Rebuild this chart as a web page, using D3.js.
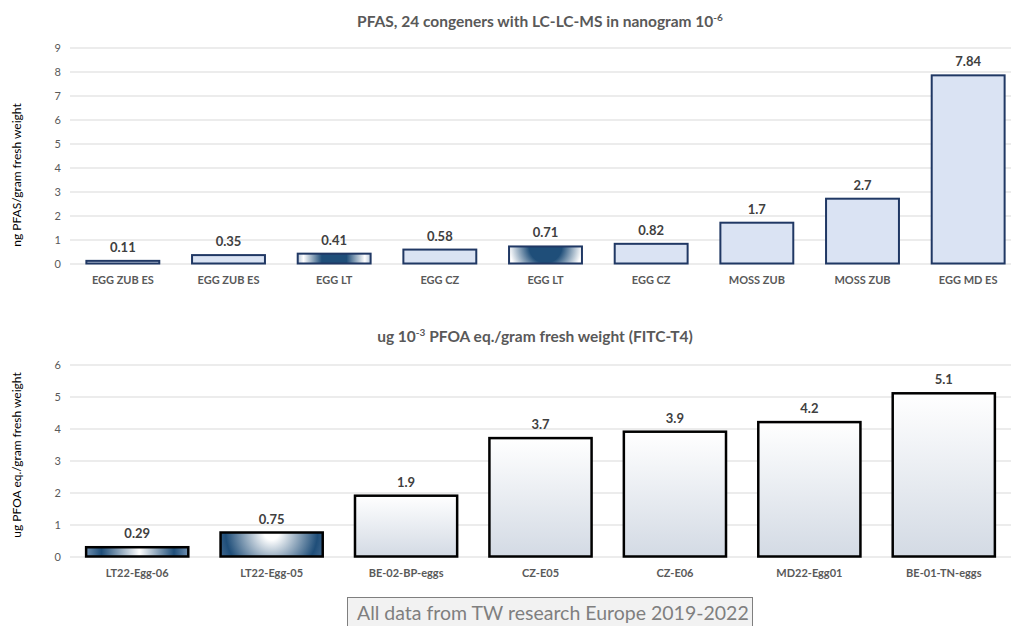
<!DOCTYPE html>
<html>
<head>
<meta charset="utf-8">
<script src="https://cdn.jsdelivr.net/npm/d3@7/dist/d3.min.js"></script>
<style>
  html, body { margin: 0; padding: 0; background: #fff; }
  svg { display: block; font-family: Lato, "Open Sans", sans-serif; }
</style>
</head>
<body>
<svg id="chart" width="1011" height="626"></svg>
<script>
// ---------- data ----------
const topCategories = ["EGG ZUB ES", "EGG ZUB ES", "EGG LT", "EGG CZ", "EGG LT", "EGG CZ", "MOSS ZUB", "MOSS ZUB", "EGG MD ES"];
const topValues = [0.11, 0.35, 0.41, 0.58, 0.71, 0.82, 1.7, 2.7, 7.84];
const topTicks = [0, 1, 2, 3, 4, 5, 6, 7, 8, 9];
const topTitle = "PFAS, 24 congeners with LC-LC-MS in nanogram 10";
const topTitleSup = "-6";
const topYTitle = "ng PFAS/gram fresh weight";

const bottomCategories = ["LT22-Egg-06", "LT22-Egg-05", "BE-02-BP-eggs", "CZ-E05", "CZ-E06", "MD22-Egg01", "BE-01-TN-eggs"];
const bottomValues = [0.29, 0.75, 1.9, 3.7, 3.9, 4.2, 5.1];
const bottomTicks = [0, 1, 2, 3, 4, 5, 6];
const bottomTitlePre = "ug 10";
const bottomTitleSup = "-3";
const bottomTitlePost = " PFOA eq./gram fresh weight (FITC-T4)";
const bottomYTitle = "ug PFOA eq./gram fresh weight";

const footerText = "All data from TW research Europe 2019-2022";

// ---------- setup ----------
const svg = d3.select("#chart");
const defs = svg.append("defs");

function linGrad(id, stops, x2, y2) {
  const g = defs.append("linearGradient").attr("id", id)
    .attr("x1", 0).attr("y1", 0).attr("x2", x2).attr("y2", y2);
  stops.forEach(s => g.append("stop").attr("offset", s[0]).attr("stop-color", s[1]));
}
linGrad("topHStripe", [[0, "#b9c8da"], [0.08, "#ffffff"], [0.33, "#1f4e79"], [0.67, "#1f4e79"], [0.92, "#ffffff"], [1, "#b9c8da"]], 1, 0);
linGrad("botHStripe", [[0, "#6f8fb0"], [0.15, "#1f4e79"], [0.52, "#ffffff"], [0.86, "#1f4e79"], [1, "#6f8fb0"]], 1, 0);
linGrad("botDefault", [[0, "#ffffff"], [1, "#d3dae4"]], 0, 1);

function radGrad(id, cx, cy, r, stops) {
  const g = defs.append("radialGradient").attr("id", id)
    .attr("gradientUnits", "userSpaceOnUse")
    .attr("cx", cx).attr("cy", cy).attr("r", r);
  stops.forEach(s => g.append("stop").attr("offset", s[0]).attr("stop-color", s[1]));
}

const gridColor = "#d9d9d9";
const tickColor = "#595959";
const xLeft = 70, xRightTop = 1021, xRightBot = 1011;

function drawPanel(cfg) {
  const x = d3.scaleBand().domain(cfg.cats.map((d, i) => i))
    .range([xLeft, cfg.xRight]).paddingInner(cfg.pad).paddingOuter(cfg.pad / 2);
  const y = d3.scaleLinear().domain([0, cfg.max]).range([cfg.y0, cfg.y1]);

  const ax = svg.append("g").attr("transform", `translate(${xLeft},0)`)
    .call(d3.axisLeft(y).tickValues(cfg.ticks).tickSize(-(1011 - xLeft)).tickPadding(9).tickFormat(d3.format("d")));
  ax.select(".domain").remove();
  ax.selectAll(".tick line").attr("stroke", gridColor).attr("stroke-width", 1);
  ax.selectAll(".tick text").attr("fill", tickColor).attr("font-size", 11)
    .attr("font-family", "Lato, 'Open Sans', sans-serif");

  const g = svg.append("g");
  cfg.vals.forEach((v, i) => {
    const bx = x(i), bw = x.bandwidth(), by = y(v), bh = y(0) - y(v);
    let fill = cfg.fill;
    if (cfg.special[i] === "hstripe") fill = `url(#${cfg.hId})`;
    if (cfg.special[i] === "radial") {
      const id = cfg.rId + i;
      radGrad(id, bx + bw / 2, by, bw * cfg.rScale, cfg.rStops);
      fill = `url(#${id})`;
    }
    g.append("rect").attr("x", bx).attr("y", by).attr("width", bw).attr("height", bh)
      .attr("fill", fill).attr("stroke", cfg.stroke).attr("stroke-width", cfg.sw);
    g.append("text").attr("x", bx + bw / 2).attr("y", by - 9)
      .attr("text-anchor", "middle").attr("font-size", 13).attr("font-weight", "bold")
      .attr("fill", "#404040").text(String(v));
  });

  const xa = svg.append("g").attr("transform", `translate(0,${cfg.y0})`)
    .call(d3.axisBottom(x).tickSize(0).tickPadding(cfg.labPad).tickFormat(i => cfg.cats[i]));
  xa.select(".domain").remove();
  xa.selectAll(".tick text").attr("fill", tickColor).attr("font-size", 11).attr("font-weight", "bold")
    .attr("font-family", "Lato, 'Open Sans', sans-serif");

  svg.append("text").attr("transform", `translate(21,${cfg.yTitleY}) rotate(-90)`)
    .attr("text-anchor", "middle").attr("font-size", 12).attr("fill", "#000")
    .text(cfg.yTitle);
}

drawPanel({
  cats: topCategories, vals: topValues, ticks: topTicks, max: 9,
  y0: 263.5, y1: 47.5, xRight: xRightTop, pad: 0.31,
  fill: "#dae3f3", stroke: "#203864", sw: 2,
  special: [null, null, "hstripe", null, "radial", null, null, null, null],
  hId: "topHStripe", rId: "topRad", rScale: 0.5,
  rStops: [[0, "#1f4e79"], [0.45, "#1f4e79"], [1, "#ffffff"]],
  labPad: 13, yTitle: topYTitle, yTitleY: 175
});

drawPanel({
  cats: bottomCategories, vals: bottomValues, ticks: bottomTicks, max: 6,
  y0: 556.5, y1: 364.5, xRight: xRightBot, pad: 0.24,
  fill: "url(#botDefault)", stroke: "#000", sw: 2.5,
  special: ["hstripe", "radial", null, null, null, null, null],
  hId: "botHStripe", rId: "botRad", rScale: 0.6,
  rStops: [[0, "#ffffff"], [0.12, "#ffffff"], [0.75, "#1f4e79"], [1, "#4f7398"]],
  labPad: 13, yTitle: bottomYTitle, yTitleY: 455
});

const t1 = svg.append("text").attr("x", 540).attr("y", 27).attr("text-anchor", "middle")
  .attr("font-size", 15.5).attr("font-weight", "bold").attr("fill", "#595959");
t1.append("tspan").text(topTitle);
t1.append("tspan").attr("dy", -6).attr("font-size", 10).text(topTitleSup);

const t2 = svg.append("text").attr("x", 535).attr("y", 342).attr("text-anchor", "middle")
  .attr("font-size", 15.5).attr("font-weight", "bold").attr("fill", "#595959");
t2.append("tspan").text(bottomTitlePre);
t2.append("tspan").attr("dy", -6).attr("font-size", 10).text(bottomTitleSup);
t2.append("tspan").attr("dy", 6).text(bottomTitlePost);

svg.append("rect").attr("x", 347.5).attr("y", 597.5).attr("width", 405).attr("height", 40)
  .attr("fill", "#f2f2f2").attr("stroke", "#7f7f7f").attr("stroke-width", 1);
svg.append("text").attr("x", 357).attr("y", 620).attr("font-size", 19.5).attr("fill", "#7f7f7f")
  .text(footerText);
</script>
</body>
</html>
